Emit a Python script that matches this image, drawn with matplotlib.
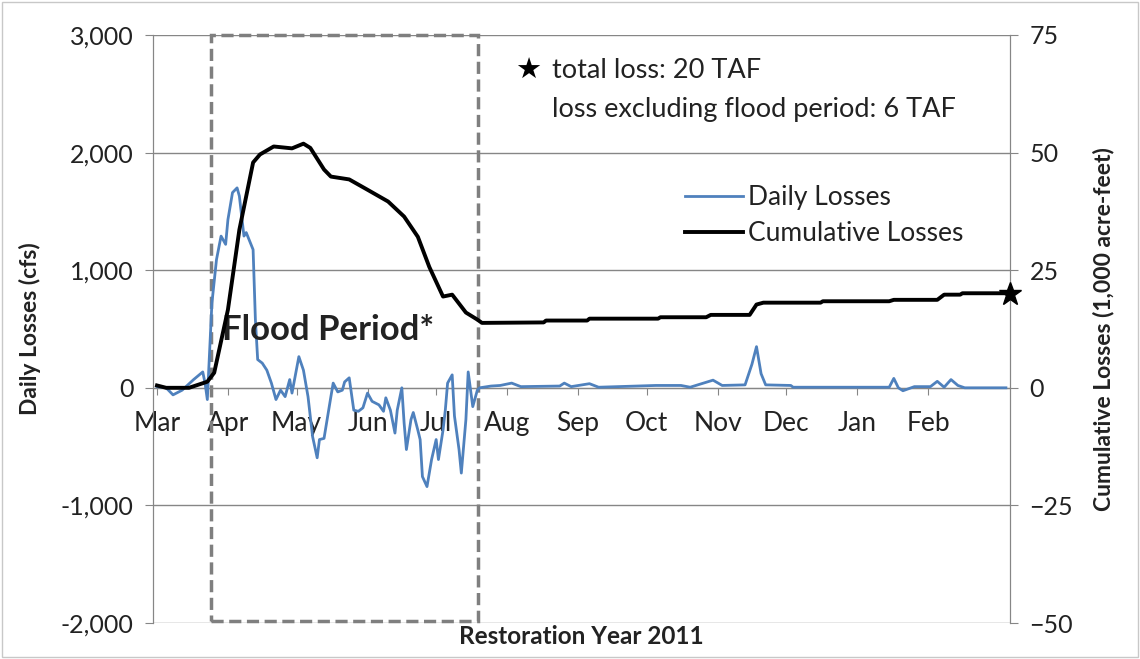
import matplotlib
matplotlib.use("Agg")
import matplotlib.pyplot as plt
from matplotlib.patches import Rectangle

plt.rcParams['font.family'] = ['Lato', 'DejaVu Sans']

# days counted from 1 Mar 2011
months = ["Mar", "Apr", "May", "Jun", "Jul", "Aug", "Sep", "Oct", "Nov", "Dec", "Jan", "Feb"]
month_start = [0, 31, 61, 92, 122, 153, 184, 214, 245, 275, 306, 337]

daily_day = [0, 4, 7, 11, 16, 20, 21, 22, 24, 26, 28, 30, 31, 33, 35, 36, 38, 39, 42, 43,
             44, 46, 48, 50, 52, 54, 56, 58, 59, 62, 64, 66, 68, 70, 71, 73, 76, 77, 79, 81,
             82, 84, 86, 88, 90, 92, 94, 97, 99, 100, 102, 104, 105, 107, 108, 109, 111, 112, 114, 115,
             116, 118, 120, 122, 123, 125, 126, 127, 129, 130, 132, 133, 135, 136, 138, 140, 141, 146, 150, 155,
             159, 176, 178, 181, 189, 193, 218, 229, 233, 243, 247, 257, 260, 262, 264, 266, 277, 278, 320, 322,
             324, 326, 331, 338, 341, 344, 347, 350, 353, 371]
daily_cfs = [10, 0, -60, -20, 70, 135, 40, -100, 720, 1090, 1290, 1220, 1430, 1660, 1700, 1630, 1290, 1320, 1175, 580,
             240, 210, 150, 40, -100, -20, -75, 70, -45, 265, 150, -75, -415, -595, -440, -430, -75, 40, -35, -20,
             50, 85, -190, -200, -170, -45, -115, -145, -200, -85, -190, -385, -190, 0, -300, -525, -270, -210, -360, -440,
             -755, -840, -610, -440, -610, -360, -190, 40, 110, -240, -525, -725, -270, 135, -160, -20, 0, 15, 20, 40,
             10, 15, 40, 10, 35, 5, 20, 20, 5, 65, 20, 25, 200, 350, 120, 25, 20, 5, 5, 80,
             0, -25, 10, 10, 55, 5, 70, 20, 0, 0]

cum_day = [0, 4, 14, 22, 25, 31, 36, 42, 45, 51, 59, 64, 67, 73, 76, 84, 92, 101, 108, 114,
           119, 125, 129, 135, 140, 142, 169, 170, 188, 189, 219, 220, 240, 242, 259, 262, 265, 290, 291, 320,
           322, 341, 344, 351, 352, 371]
cum_taf = [0.5, 0, 0, 1.3, 3.2, 16.6, 33.6, 47.9, 49.6, 51.3, 50.9, 51.9, 51, 46.4, 44.9, 44.3, 42.1, 39.6, 36.4, 32.1,
           25.7, 19.4, 19.8, 16, 14.5, 13.8, 13.9, 14.3, 14.3, 14.7, 14.7, 15.0, 15.0, 15.5, 15.5, 17.7, 18.1, 18.1, 18.4, 18.4,
           18.7, 18.7, 19.8, 19.8, 20.1, 20.1]

total_loss = 20
star_day = 372.8
flood_start, flood_end = 23.6, 140.3

grid_c = "#868686"
txt_c = "#222222"

fig = plt.figure(figsize=(11.4, 6.59), dpi=100)
fig.patches.append(Rectangle((0.002, 0.003), 0.996, 0.994, transform=fig.transFigure,
                             fill=False, edgecolor="#c8c8c8", lw=1))
ax = fig.add_axes([0.1342, 0.0546, 0.7518, 0.8923])
ax2 = ax.twinx()

blue, = ax.plot(daily_day, daily_cfs, color="#4f81bd", lw=2.0, label="Daily Losses", zorder=3)
black, = ax2.plot(cum_day, cum_taf, color="black", lw=2.8, label="Cumulative Losses", zorder=4)
ax2.plot([star_day], [total_loss], marker="*", ms=17, color="black", clip_on=False, zorder=5)

ax.set_xlim(-1.75, 372.8)
ax.set_ylim(-2000, 3000)
ax.set_yticks([-2000, -1000, 0, 1000, 2000, 3000])
ax.set_yticklabels(["-2,000", "-1,000", "0", "1,000", "2,000", "3,000"])
ax2.set_ylim(-50, 75)
ax2.set_yticks([-50, -25, 0, 25, 50, 75])

ax.set_xticks(month_start)
ax.set_xticklabels(months)

ax.grid(axis="y", color=grid_c, lw=1)
ax.set_axisbelow(True)
for a in (ax, ax2):
    a.spines["top"].set_visible(False)
    a.spines["left"].set_color(grid_c)
    a.spines["right"].set_color(grid_c)
    a.spines["bottom"].set_position(("data", 0))
    a.spines["bottom"].set_color(grid_c)
ax2.spines["bottom"].set_visible(False)

ax.tick_params(axis="y", length=6, color=grid_c, labelsize=18, labelcolor=txt_c, pad=8)
ax2.tick_params(axis="y", length=6, color=grid_c, labelsize=18, labelcolor=txt_c, pad=8)
ax.tick_params(axis="x", length=5, color=grid_c, labelsize=19, labelcolor=txt_c, pad=12)

ax.set_ylabel("Daily Losses (cfs)", fontsize=16.5, fontweight="bold", color=txt_c, labelpad=14)
ax2.set_ylabel("Cumulative Losses (1,000 acre-feet)", fontsize=16.5, fontweight="bold", color=txt_c, labelpad=14)
fig.text(0.51, 0.034, "Restoration Year 2011", ha="center", va="center",
         fontsize=17.5, fontweight="bold", color=txt_c)

# flood period box
ax.add_patch(Rectangle((flood_start, -1985), flood_end - flood_start, 4985, fill=False,
                       edgecolor="#7f7f7f", lw=2.5, linestyle=(0, (3.5, 1.6)), zorder=2, clip_on=False))
ax.text(flood_start + 4.6, 494, "Flood Period*", fontsize=25, fontweight="bold",
        color=txt_c, va="center", ha="left", zorder=6)

# notes
ax.text(0.438, 0.939, "\u2605", transform=ax.transAxes, fontsize=21, family="DejaVu Sans",
        va="center", ha="center", color="black")
ax.text(0.465, 0.939, "total loss: 20 TAF", transform=ax.transAxes, fontsize=19.5,
        va="center", ha="left", color=txt_c)
ax.text(0.465, 0.874, "loss excluding flood period: 6 TAF", transform=ax.transAxes, fontsize=19.5,
        va="center", ha="left", color=txt_c)

ax.legend([blue, black], ["Daily Losses", "Cumulative Losses"], loc="upper left",
          bbox_to_anchor=(685 / 1140, 1 - 185 / 659), bbox_transform=fig.transFigure,
          frameon=False, fontsize=19, handlelength=2.2, handletextpad=0.2,
          labelspacing=0.42, borderpad=0, borderaxespad=0, labelcolor=txt_c)

fig.savefig("out.png", dpi=100)
